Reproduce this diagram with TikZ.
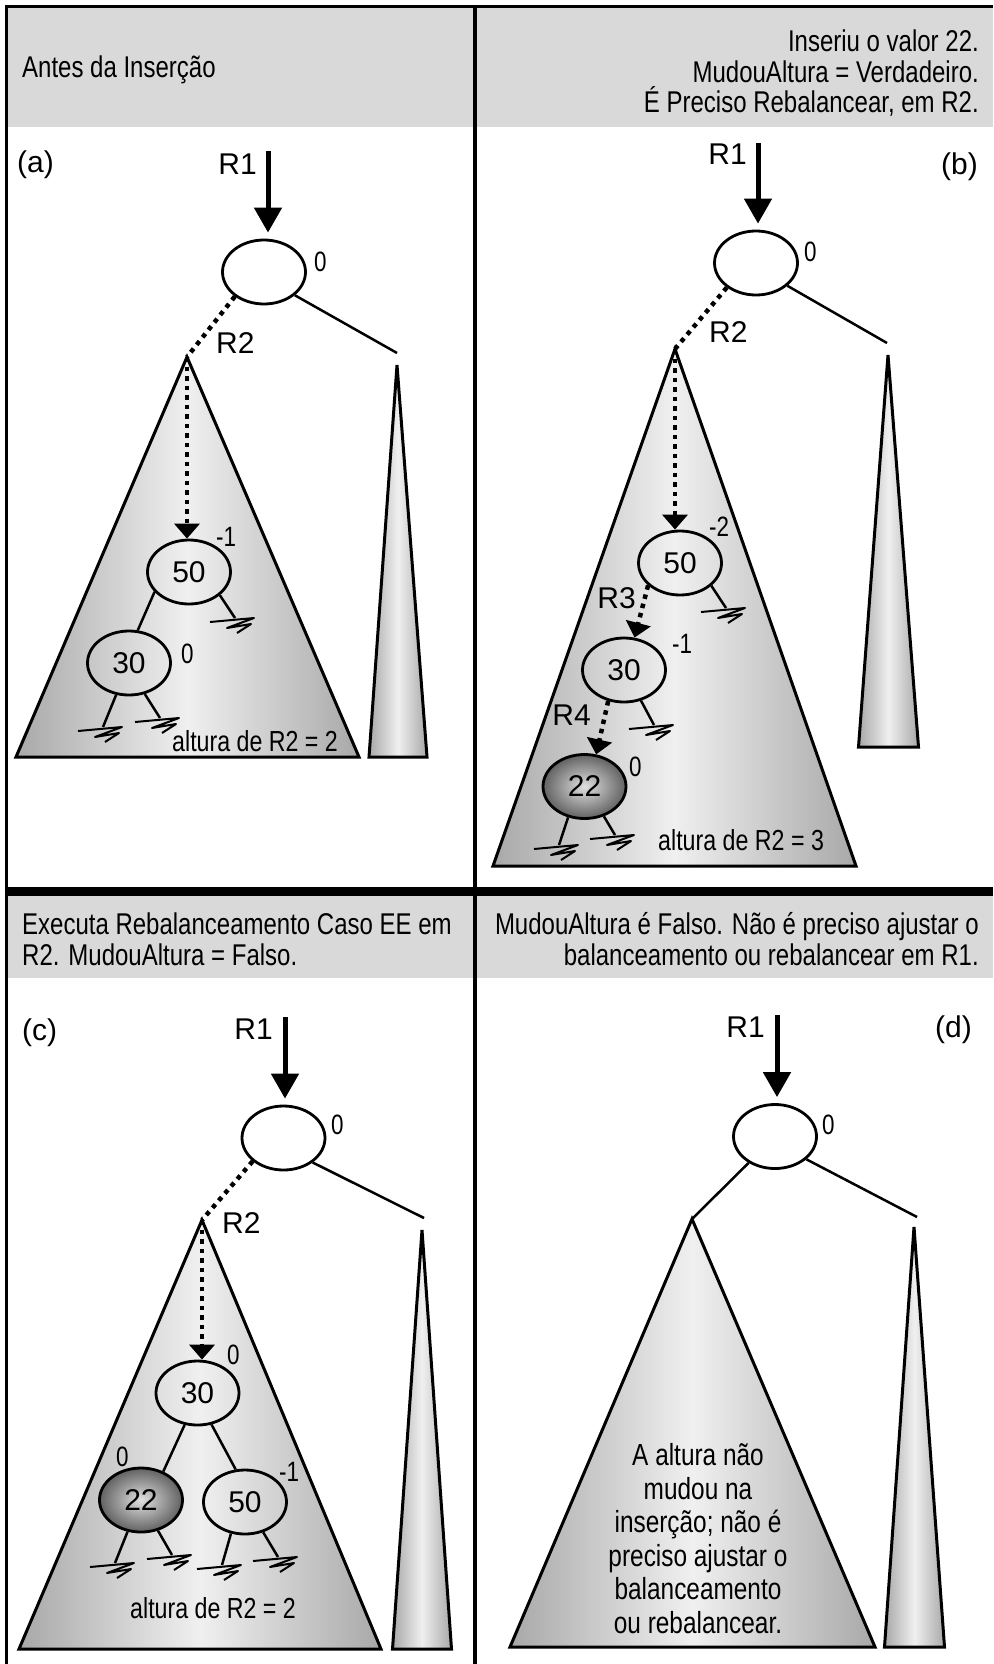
\documentclass[tikz,border=0pt]{standalone}
\usepackage{fontspec}
\setmainfont{Liberation Sans}
\newfontfamily\narrowfont{Liberation Sans}[FakeStretch=0.8]
\usetikzlibrary{arrows.meta,shapes.geometric}

\begin{document}
\begin{tikzpicture}[x=1pt,y=-1pt,
  frame/.style={line width=3.5pt},
  key/.style={draw,ellipse,line width=2.8pt,minimum width=83pt,minimum height=64pt,inner sep=0pt,font=\fontsize{30}{30}\selectfont},
  newkey/.style={key,inner color=black!12,outer color=black!62},
  subtree/.style={draw,line width=3pt,left color=black!34,right color=black!34,middle color=black!6},
  edge/.style={line width=2.5pt},
  ptr/.style={line width=4.5pt,dash pattern=on 4.5pt off 5pt},
  ptrarrow/.style={ptr,-{Triangle[width=25pt,length=15pt]}},
  rootarrow/.style={line width=5pt,-{Triangle[width=27pt,length=25pt]},shorten >=6pt},
  lbl/.style={inner sep=0pt,font=\fontsize{30}{30}\selectfont},
  bf/.style={inner sep=0pt,font=\narrowfont\fontsize{28}{28}\selectfont},
  hdr/.style={inner sep=0pt,font=\narrowfont\fontsize{30}{30.5}\selectfont},
  alt/.style={inner sep=0pt,font=\narrowfont\fontsize{29}{29}\selectfont},
  note/.style={inner sep=0pt,font=\narrowfont\fontsize{30.5}{33.5}\selectfont,align=center},
  nullptr/.pic={\draw[line width=2pt,line join=round] (-25,4)--(19,0)--(-8,10)--(16,6)--(2,15);}]
\useasboundingbox (0,0) rectangle (993,1664);
% header bands and frame
\fill[black!15] (8,8) rectangle (993,127);
\fill[black!15] (8,896) rectangle (993,978);
\draw[frame] (5,6.5) -- (993,6.5);
\draw[frame] (6.5,5) -- (6.5,1664);
\draw[frame] (475,5) -- (475,1664);
\draw[line width=9pt] (5,891.5) -- (993,891.5);
\node[hdr,anchor=base west] (hdr-a) at (22,78) {Antes da Inserção};
\node[hdr,anchor=base east,align=right] (hdr-b) at (979,113) {Inseriu o valor 22.\\MudouAltura = Verdadeiro.\\É Preciso Rebalancear, em R2.};
\node[hdr,anchor=base west,align=left] (hdr-c) at (22,965) {Executa Rebalanceamento Caso EE em\\R2. MudouAltura = Falso.};
\node[hdr,anchor=base east,align=right] (hdr-d) at (979,965) {MudouAltura é Falso. Não é preciso ajustar o\\balanceamento ou rebalancear em R1.};

% (a) before insertion
\coordinate (a-top) at (187,357);
\coordinate (a-thin) at (397,365);
\coordinate (a-right) at (397,353);
\draw[subtree] (a-top) -- (16,757) -- (359,757) -- cycle;
\draw[subtree] (a-thin) -- (369,757) -- (427,757) -- cycle;
\node[lbl,anchor=base west] (tag-a) at (17,173) {(a)};
\node[key] (a-root) at (264,272) {};
\node[key] (a-50) at (189,572) {50};
\node[key] (a-30) at (129,663) {30};
\node[bf,anchor=base west] (a-root-bf) at (314,271) {0};
\node[bf,anchor=base west] (a-50-bf) at (216,546) {-1};
\node[bf,anchor=base west] (a-30-bf) at (181,663) {0};
\coordinate (a-r1) at (268,151);
\node[lbl,anchor=base east] (a-r1-lbl) at (257,175) {R1};
\node[lbl,anchor=base west] (a-r2-lbl) at (216,353) {R2};
\draw[rootarrow] (a-r1) -- (a-r1 |- a-root.north);
\draw[ptr] (a-root.-140) -- (a-top);
\draw[edge] (a-root.-37) -- (a-right);
\draw[ptrarrow] (a-top) -- (a-top |- a-50.north);
\draw[edge] (a-50.-150) -- (a-30.75);
\coordinate (a-n1) at (235,618);
\coordinate (a-n2) at (103,727);
\coordinate (a-n3) at (160,718);
\draw[edge] (a-50.-37) -- (a-n1);
\draw[edge] (a-30.-112) -- (a-n2);
\draw[edge] (a-30.-63) -- (a-n3);
\node[alt,anchor=base west] (a-alt) at (172,751) {altura de R2 = 2};

% (b) 22 inserted
\coordinate (b-top) at (675,349);
\coordinate (b-thin) at (888,355);
\coordinate (b-right) at (887,343);
\draw[subtree] (b-top) -- (493,866) -- (856,866) -- cycle;
\draw[subtree] (b-thin) -- (858.5,747) -- (918.5,747) -- cycle;
\node[lbl,anchor=base east] (tag-b) at (978,175) {(b)};
\node[key] (b-root) at (756,263) {};
\node[key] (b-50) at (680,563) {50};
\node[key] (b-30) at (624,670) {30};
\node[newkey] (b-22) at (584.5,786.5) {22};
\node[bf,anchor=base west] (b-root-bf) at (804,261) {0};
\node[bf,anchor=base west] (b-50-bf) at (709,536) {-2};
\node[bf,anchor=base west] (b-30-bf) at (672,653) {-1};
\node[bf,anchor=base west] (b-22-bf) at (629,776) {0};
\coordinate (b-r1) at (758,143);
\node[lbl,anchor=base east] (b-r1-lbl) at (747,165) {R1};
\node[lbl,anchor=base west] (b-r2-lbl) at (709,342) {R2};
\node[lbl,anchor=base east] (b-r3-lbl) at (636,608) {R3};
\node[lbl,anchor=base east] (b-r4-lbl) at (591,725) {R4};
\draw[rootarrow] (b-r1) -- (b-r1 |- b-root.north);
\draw[ptr] (b-root.-140) -- (b-top);
\draw[edge] (b-root.-36) -- (b-right);
\draw[ptrarrow] (b-top) -- (b-top |- b-50.north);
\draw[ptrarrow] (b-50.-145) -- (b-30.72);
\draw[ptrarrow] (b-30.-117) -- (b-22.70);
\coordinate (b-n1) at (726,608);
\coordinate (b-n2) at (654,725);
\coordinate (b-n3) at (559,845);
\coordinate (b-n4) at (615,835);
\draw[edge] (b-50.-36) -- (b-n1);
\draw[edge] (b-30.-61) -- (b-n2);
\draw[edge] (b-22.-118) -- (b-n3);
\draw[edge] (b-22.-57) -- (b-n4);
\node[alt,anchor=base west] (b-alt) at (658,850) {altura de R2 = 3};

% (c) after EE rotation
\coordinate (c-top) at (202,1220);
\coordinate (c-thin) at (422,1230);
\coordinate (c-right) at (424,1218);
\draw[subtree] (c-top) -- (19,1649) -- (381,1649) -- cycle;
\draw[subtree] (c-thin) -- (392.5,1649) -- (451.5,1649) -- cycle;
\node[lbl,anchor=base west] (tag-c) at (22,1040) {(c)};
\node[key] (c-root) at (283.5,1138) {};
\node[key] (c-30) at (197.5,1393) {30};
\node[newkey] (c-22) at (141,1500) {22};
\node[key] (c-50) at (245,1502) {50};
\node[bf,anchor=base west] (c-root-bf) at (331,1134) {0};
\node[bf,anchor=base west] (c-30-bf) at (227,1364) {0};
\node[bf,anchor=base west] (c-22-bf) at (116,1466) {0};
\node[bf,anchor=base west] (c-50-bf) at (279,1481) {-1};
\coordinate (c-r1) at (285,1017);
\node[lbl,anchor=base east] (c-r1-lbl) at (273,1039) {R1};
\node[lbl,anchor=base west] (c-r2-lbl) at (222,1233) {R2};
\draw[rootarrow] (c-r1) -- (c-r1 |- c-root.north);
\draw[ptr] (c-root.-143) -- (c-top);
\draw[edge] (c-root.-40) -- (c-right);
\draw[ptrarrow] (c-top) -- (c-top |- c-30.north);
\draw[edge] (c-30.-112) -- (c-22.52);
\draw[edge] (c-30.-66) -- (c-50.106);
\coordinate (c-n1) at (115,1563);
\coordinate (c-n2) at (172,1555);
\coordinate (c-n3) at (222,1565);
\coordinate (c-n4) at (278,1557);
\draw[edge] (c-22.-113) -- (c-n1);
\draw[edge] (c-22.-61) -- (c-n2);
\draw[edge] (c-50.-114) -- (c-n3);
\draw[edge] (c-50.-59) -- (c-n4);
\node[alt,anchor=base west] (c-alt) at (130,1618) {altura de R2 = 2};

% (d) nothing else to do
\coordinate (d-top) at (692,1219);
\coordinate (d-thin) at (914,1227);
\coordinate (d-right) at (917,1217);
\draw[subtree] (d-top) -- (510,1647) -- (875,1647) -- cycle;
\draw[subtree] (d-thin) -- (884.5,1647) -- (944.5,1647) -- cycle;
\node[lbl,anchor=base east] (tag-d) at (972,1037) {(d)};
\node[key] (d-root) at (775,1136.5) {};
\node[bf,anchor=base west] (d-root-bf) at (822,1134) {0};
\coordinate (d-r1) at (777,1015);
\node[lbl,anchor=base east] (d-r1-lbl) at (765,1037) {R1};
\draw[rootarrow] (d-r1) -- (d-r1 |- d-root.north);
\draw[edge] (d-root.-135) -- (d-top);
\draw[edge] (d-root.-36) -- (d-right);
\node[note,anchor=base] (d-note) at (698,1633) {A altura não\\mudou na\\inserção; não é\\preciso ajustar o\\balanceamento\\ou rebalancear.};

% null pointers
\foreach \n in {a-n1,a-n2,a-n3,b-n1,b-n2,b-n3,b-n4,c-n1,c-n2,c-n3,c-n4}
  \pic at (\n) {nullptr};
\end{tikzpicture}
\end{document}
